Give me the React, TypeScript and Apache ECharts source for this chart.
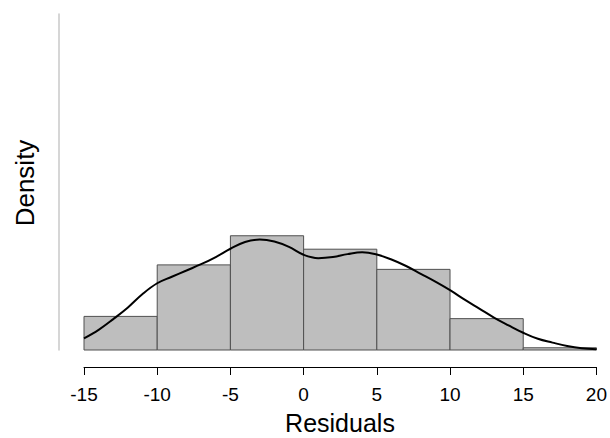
import React, { useEffect, useRef } from "react";
import * as echarts from "echarts";

const binStarts = [-15, -10, -5, 0, 5, 10, 15];
const binEnds = [-10, -5, 0, 5, 10, 15, 20];
const densities = [0.015, 0.038, 0.051, 0.045, 0.036, 0.014, 0.001];

const curveX = [-15, -14, -13, -12, -11, -10, -9, -8, -7, -6, -5, -4, -3, -2, -1, 0, 1, 2, 3, 4, 5, 6, 7, 8, 9, 10, 11, 12, 13, 14, 15, 16, 17, 18, 19, 20];
const curveY = [0.0052, 0.009, 0.0138, 0.019, 0.025, 0.0298, 0.0327, 0.0355, 0.0383, 0.0415, 0.0452, 0.0482, 0.0493, 0.0484, 0.046, 0.0425, 0.041, 0.0415, 0.0428, 0.0436, 0.0426, 0.0404, 0.0375, 0.034, 0.0305, 0.0267, 0.0225, 0.0185, 0.0145, 0.011, 0.0077, 0.005, 0.0033, 0.0018, 0.0008, 0.0003];

const xTicks = [-15, 20, 5]; // min, max, interval
const yMax = 0.15;

export default function App() {
  const ref = useRef<HTMLDivElement>(null);
  useEffect(() => {
    if (!ref.current) return;
    const chart = echarts.init(ref.current, null, { renderer: "svg" });
    const font = "Liberation Sans, Arial, Helvetica, sans-serif";
    chart.setOption({
      animation: false,
      backgroundColor: "#ffffff",
      grid: { left: 84, right: 13, top: 14, bottom: 88, containLabel: false },
      xAxis: {
        type: "value",
        min: xTicks[0],
        max: xTicks[1],
        interval: xTicks[2],
        offset: 17,
        axisLine: { show: true, onZero: false, lineStyle: { color: "#000", width: 1 } },
        axisTick: { show: true, length: 8, lineStyle: { color: "#000", width: 1 } },
        axisLabel: { fontSize: 19, color: "#000", margin: 18, fontFamily: font },
        splitLine: { show: false },
      },
      yAxis: {
        type: "value",
        min: 0,
        max: yMax,
        offset: 25,
        axisLine: { show: true, onZero: false, lineStyle: { color: "#c8c8c8", width: 1.5 } },
        axisTick: { show: false },
        axisLabel: { show: false },
        splitLine: { show: false },
      },
      graphic: [
        {
          type: "text",
          x: 25,
          y: 183,
          rotation: Math.PI / 2,
          style: {
            text: "Density",
            fontSize: 26,
            lineHeight: 26,
            fontFamily: font,
            fill: "#000",
            align: "center",
            verticalAlign: "middle",
          },
        },
        {
          type: "text",
          x: 340,
          y: 423,
          style: {
            text: "Residuals",
            fontSize: 25,
            lineHeight: 25,
            fontFamily: font,
            fill: "#000",
            align: "center",
            verticalAlign: "middle",
          },
        },
      ],
      series: [
        {
          type: "custom",
          data: binStarts.map((s, i) => [s, binEnds[i], densities[i]]),
          encode: { x: [0, 1], y: 2 },
          renderItem: (params: any, api: any) => {
            const a = api.coord([api.value(0), api.value(2)]);
            const b = api.coord([api.value(1), 0]);
            return {
              type: "rect",
              shape: { x: a[0], y: a[1], width: b[0] - a[0], height: b[1] - a[1] },
              style: { fill: "#bebebe", stroke: "#505050", lineWidth: 1 },
            };
          },
          z: 1,
        },
        {
          type: "line",
          data: curveX.map((x, i) => [x, curveY[i]]),
          smooth: 0.4,
          showSymbol: false,
          lineStyle: { color: "#000", width: 2 },
          z: 2,
        },
      ],
    });
    return () => chart.dispose();
  }, []);
  return (
    <div
      ref={ref}
      style={{ position: "absolute", left: 0, top: 0, width: 610, height: 438 }}
    />
  );
}
